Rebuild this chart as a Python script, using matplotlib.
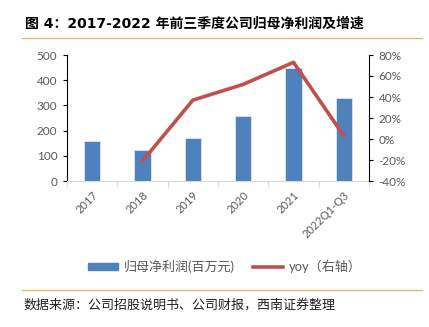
import matplotlib
matplotlib.use("Agg")
import matplotlib.pyplot as plt
from matplotlib.lines import Line2D
from matplotlib.patches import Patch
from matplotlib.ticker import FuncFormatter

plt.rcParams["font.family"] = ["Lato", "Noto Sans CJK SC", "DejaVu Sans"]

# 数据
categories = ["2017", "2018", "2019", "2020", "2021", "2022Q1-Q3"]
net_profit = [158, 124, 172, 259, 450, 330]          # 百万元
yoy_x = ["2018", "2019", "2020", "2021", "2022Q1-Q3"]
yoy = [-21, 37, 52, 73, 3]                             # %

BLUE = "#4F81BD"
RED = "#C0504D"
GRAY = "#595959"
ORANGE = "#E8B26A"

W, H = 429, 327
fig = plt.figure(figsize=(W / 100, H / 100), dpi=100)
ax = fig.add_axes([67 / W, 1 - 181 / H, (369 - 67) / W, (181 - 55) / H])

x = list(range(len(categories)))
ax.bar(x, net_profit, width=0.32, color=BLUE, edgecolor="#DCE6F2", linewidth=0.6, zorder=2)
ax.set_xlim(-0.5, len(categories) - 0.5)
ax.set_ylim(0, 500)
ax.set_yticks([0, 100, 200, 300, 400, 500])

ax.set_xticks(x)
ax.set_xticklabels(categories, rotation=45, ha="right", rotation_mode="anchor",
                   fontsize=8, color=GRAY)
ax.set_xticks([i - 0.5 for i in range(len(categories) + 1)], minor=True)
ax.tick_params(axis="x", which="major", length=0, pad=6)
ax.tick_params(axis="x", which="minor", length=4, color="#D9D9D9", width=0.8)
ax.tick_params(axis="y", labelsize=8.5, labelcolor=GRAY, length=3, color="black", width=0.8, pad=4)

for s in ["top", "right"]:
    ax.spines[s].set_visible(False)
ax.spines["left"].set_color("black")
ax.spines["left"].set_linewidth(0.8)
ax.spines["bottom"].set_color("#D9D9D9")
ax.spines["bottom"].set_linewidth(0.8)

ax2 = ax.twinx()
yx = [categories.index(c) for c in yoy_x]
ax2.plot(yx, yoy, color=RED, linewidth=2.6, solid_capstyle="round", zorder=3)
ax2.set_ylim(-40, 80)
ax2.set_yticks(range(-40, 81, 20))
ax2.yaxis.set_major_formatter(FuncFormatter(lambda v, p: f"{v:.0f}%"))
ax2.tick_params(axis="y", labelsize=8.5, labelcolor=GRAY, length=3, color="black", width=0.8, pad=4)
for s in ["top", "left", "bottom"]:
    ax2.spines[s].set_visible(False)
ax2.spines["right"].set_color("black")
ax2.spines["right"].set_linewidth(0.8)

# 标题
fig.text(25 / W, 1 - 24 / H, "图 4：2017-2022 年前三季度公司归母净利润及增速",
         fontsize=10, fontweight="bold", va="center", ha="left",
         family=["DejaVu Sans", "Noto Sans CJK SC"])
fig.add_artist(Line2D([22 / W, 422 / W], [1 - 37.5 / H] * 2, color=ORANGE, linewidth=0.9))

# 图例
handles = [Patch(facecolor=BLUE, edgecolor=BLUE),
           Line2D([0], [0], color=RED, linewidth=2.6)]
fig.legend(handles, ["归母净利润(百万元)", "yoy（右轴）"], loc="center",
           bbox_to_anchor=(225 / W, 1 - 266 / H), ncol=2, frameon=False,
           fontsize=9.4, labelcolor=GRAY, handlelength=2.3, handleheight=0.45,
           columnspacing=1.4, handletextpad=0.45)

# 底部
fig.add_artist(Line2D([22 / W, 422 / W], [1 - 290 / H] * 2, color=ORANGE, linewidth=0.9))
fig.text(24 / W, 1 - 305 / H, "数据来源：公司招股说明书、公司财报，西南证券整理",
         fontsize=9.4, style="italic", va="center", ha="left", color="#222222",
         family=["Noto Sans CJK SC", "DejaVu Sans"])

fig.savefig("out.png", dpi=100)
